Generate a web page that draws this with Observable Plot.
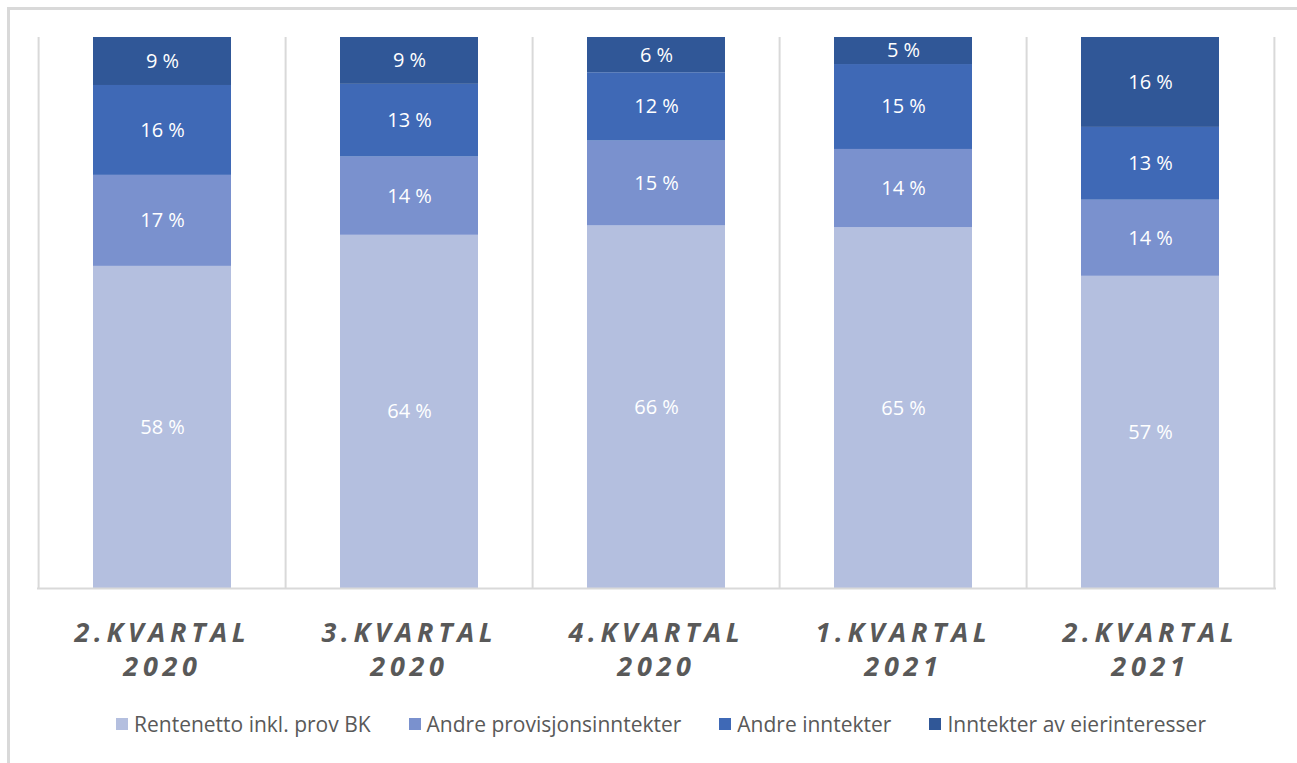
<!DOCTYPE html>
<html>
<head>
<meta charset="utf-8">
<script src="https://cdn.jsdelivr.net/npm/d3@7"></script>
<script src="https://cdn.jsdelivr.net/npm/@observablehq/plot@0.6"></script>
<style>
  body { margin: 0; background: #fff; font-family: "Open Sans", sans-serif; }
  #wrap { position: relative; width: 1297px; height: 763px; overflow: hidden; }
  #border { position: absolute; left: 7px; top: 7px; width: 1400px; height: 900px;
            border-top: 3px solid #d9d9d9; border-left: 3px solid #d9d9d9; }
  #chart { position: absolute; left: 0; top: 0; }
  #chart g[aria-label="x-axis tick label"] text { letter-spacing: 4.7px; }
  #legend { position: absolute; left: 0; top: 710px; width: 1322px; display: flex;
            justify-content: center; gap: 38px; font-size: 21px; color: #595959; }
  .item { display: flex; align-items: center; gap: 6px; }
  .sw { width: 12px; height: 12px; display: inline-block; }
</style>
</head>
<body>
<div id="wrap">
  <div id="border"></div>
  <div id="chart"></div>
  <div id="legend"></div>
</div>
<script>
// Categories (quarters)
const quarters = ["2.KVARTAL 2020", "3.KVARTAL 2020", "4.KVARTAL 2020", "1.KVARTAL 2021", "2.KVARTAL 2021"];
// Series names (bottom to top)
const seriesNames = ["Rentenetto inkl. prov BK", "Andre provisjonsinntekter", "Andre inntekter", "Inntekter av eierinteresser"];
// Series values (% of income)
const rentenetto = [58.4, 64.1, 65.8, 65.4, 56.6];
const andreProvisjon = [16.5, 14.2, 15.4, 14.2, 13.8];
const andreInntekter = [16.3, 13.2, 12.4, 15.4, 13.2];
const eierinteresser = [8.7, 8.5, 6.4, 4.9, 16.3];
const seriesColors = ["#b4bfdf", "#7a91ce", "#3f69b6", "#305797"];

const seriesValues = [rentenetto, andreProvisjon, andreInntekter, eierinteresser];
const data = [];
quarters.forEach((q, i) => {
  seriesNames.forEach((s, j) => data.push({quarter: q, series: s, value: seriesValues[j][i]}));
});

const W = 1297, H = 700, mL = 37, mR = 21, mT = 37, mB = 112;
const step = (W - mL - mR) / quarters.length;

const stackOpts = {x: "quarter", y: "value", z: "series", order: seriesNames, offset: "normalize"};

const plot = Plot.plot({
  width: W, height: H,
  marginLeft: mL, marginRight: mR, marginTop: mT, marginBottom: mB,
  style: {fontFamily: "'Open Sans', sans-serif", background: "transparent"},
  x: {domain: quarters, paddingInner: 0.44, paddingOuter: 0.22, label: null},
  y: {domain: [0, 1], axis: null},
  color: {domain: seriesNames, range: seriesColors},
  marks: [
    Plot.ruleX(quarters, {x: d => d, dx: -step / 2, stroke: "#d9d9d9", strokeWidth: 2}),
    Plot.ruleX([quarters[quarters.length - 1]], {x: d => d, dx: step / 2, stroke: "#d9d9d9", strokeWidth: 2}),
    Plot.barY(data, {...stackOpts, fill: "series"}),
    Plot.text(data, Plot.stackY({...stackOpts, y: "value", text: d => Math.round(d.value) + " %",
      fill: "white", fontSize: 20})),
    Plot.ruleY([0], {stroke: "#d9d9d9", strokeWidth: 2}),
    Plot.axisX({
      tickSize: 0, tickPadding: 30,
      tickFormat: d => d.replace(" ", "\n"),
      fontSize: 27, fontWeight: "bold", fontStyle: "italic", fill: "#595959",
      lineHeight: 1.25
    })
  ]
});
document.getElementById("chart").appendChild(plot);

const legend = document.getElementById("legend");
seriesNames.forEach((s, j) => {
  const it = document.createElement("div");
  it.className = "item";
  const sw = document.createElement("span");
  sw.className = "sw";
  sw.style.background = seriesColors[j];
  const t = document.createElement("span");
  t.textContent = s;
  it.appendChild(sw); it.appendChild(t);
  legend.appendChild(it);
});
</script>
</body>
</html>
